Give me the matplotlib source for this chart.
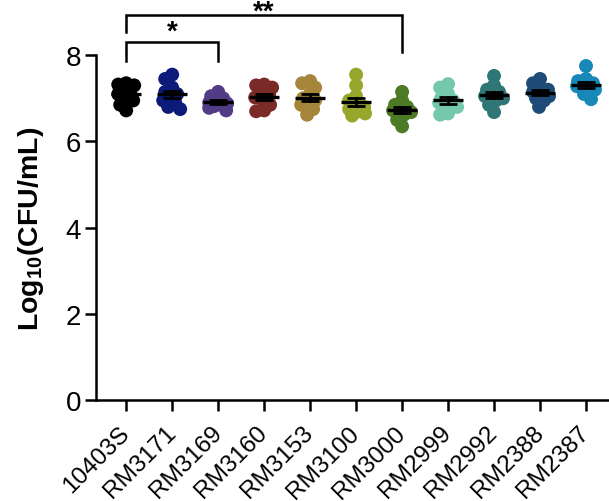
import numpy as np
import matplotlib
matplotlib.use("Agg")
import matplotlib.pyplot as plt

plt.rcParams['font.family'] = ['Liberation Sans', 'DejaVu Sans']

strains = ["10403S", "RM3171", "RM3169", "RM3160", "RM3153", "RM3100",
           "RM3000", "RM2999", "RM2992", "RM2388", "RM2387"]
colors = ["#000000", "#0c1a7a", "#523c86", "#7a2b27", "#a5853a", "#97a72c",
          "#4d7a24", "#74c8ad", "#2f7676", "#1e4b78", "#1888b9"]

v_10403S = [7.35, 7.32, 7.30, 7.25, 7.15, 7.10, 7.00, 6.95, 6.85, 6.72]
v_RM3171 = [7.55, 7.45, 7.25, 7.15, 7.10, 7.05, 6.95, 6.90, 6.80, 6.75]
v_RM3169 = [7.15, 7.05, 7.00, 6.95, 6.90, 6.88, 6.85, 6.82, 6.78, 6.72]
v_RM3160 = [7.32, 7.30, 7.25, 7.15, 7.08, 7.02, 6.95, 6.85, 6.72, 6.70]
v_RM3153 = [7.40, 7.35, 7.25, 7.10, 7.00, 6.95, 6.90, 6.85, 6.75, 6.62]
v_RM3100 = [7.55, 7.30, 7.05, 6.95, 6.85, 6.80, 6.75, 6.70, 6.65, 6.60]
v_RM3000 = [7.15, 6.95, 6.85, 6.80, 6.75, 6.72, 6.68, 6.62, 6.50, 6.35]
v_RM2999 = [7.33, 7.25, 7.10, 7.00, 6.95, 6.90, 6.90, 6.80, 6.65, 6.62]
v_RM2992 = [7.52, 7.30, 7.20, 7.15, 7.10, 7.05, 7.00, 6.95, 6.85, 6.68]
v_RM2388 = [7.45, 7.35, 7.25, 7.20, 7.15, 7.10, 7.05, 7.00, 6.95, 6.80]
v_RM2387 = [7.75, 7.45, 7.40, 7.35, 7.30, 7.28, 7.25, 7.20, 7.10, 6.98]
values = [v_10403S, v_RM3171, v_RM3169, v_RM3160, v_RM3153, v_RM3100,
          v_RM3000, v_RM2999, v_RM2992, v_RM2388, v_RM2387]

yticks = [0, 2, 4, 6, 8]
brackets = [(0, 2, "*"), (0, 6, "**")]

fig = plt.figure(figsize=(6.09, 5.02), dpi=100)
ax = fig.add_axes([0.158, 0.201, 0.842, 0.687])
ax.set_xlim(-0.652, 10.5)
ax.set_ylim(0, 8)

px_per_x = 46.0   # pixels per category
px_per_y = 43.1   # pixels per y unit
dmin = 8.0        # allowed centre spacing (markers overlap)
maxoff = 9.0

def swarm(vals):
    order = np.argsort(vals)[::-1]
    placed = []
    offs = np.zeros(len(vals))
    cands = np.arange(-maxoff, maxoff + 0.5, 1.0)
    cands = cands[np.argsort(np.abs(cands), kind='stable')]
    for i in order:
        y = vals[i] * px_per_y
        best, bestd = 0.0, -1
        chosen = None
        for c in cands:
            d = min([np.hypot(c - px, y - py) for px, py in placed], default=1e9)
            if d >= dmin:
                chosen = c
                break
            if d > bestd:
                best, bestd = c, d
        if chosen is None:
            chosen = best
        offs[i] = chosen
        placed.append((chosen, y))
    return offs / px_per_x

for i, (vals, col) in enumerate(zip(values, colors)):
    vals = np.array(vals)
    offs = swarm(vals)
    ax.scatter(i + offs, vals, s=100, color=col, edgecolors='none', zorder=2,
               clip_on=False)
    m = vals.mean()
    sem = vals.std(ddof=1) / np.sqrt(len(vals))
    ax.plot([i - 0.33, i + 0.33], [m, m], color='black', lw=2.4, zorder=3,
            solid_capstyle='butt')
    ax.plot([i, i], [m - sem, m + sem], color='black', lw=2.0, zorder=3)
    for e in (m - sem, m + sem):
        ax.plot([i - 0.2, i + 0.2], [e, e], color='black', lw=2.0, zorder=3,
                solid_capstyle='butt')

# significance brackets
levels = {"*": (8.31, 7.87, 7.87, 8.24), "**": (8.93, 8.54, 8.07, 8.72)}
for a, b, lab in brackets:
    top, la, lb, ty = levels[lab]
    ax.plot([a, a, b, b], [la, top, top, lb], color='black', lw=1.8,
            clip_on=False, solid_joinstyle='miter')
    ax.text((a + b) / 2, ty, lab, ha='center', va='bottom', fontsize=20,
            fontweight='bold', clip_on=False)

ax.set_yticks(yticks)
ax.set_yticklabels([str(t) for t in yticks], fontsize=20)
ax.set_xticks(range(len(strains)))
ax.set_xticklabels(strains, rotation=45, ha='right', va='center',
                   rotation_mode='anchor', fontsize=17.5)
ax.set_ylabel(r"Log$_{\mathregular{10}}$(CFU/mL)", fontsize=20.5,
              fontweight='bold', labelpad=14)
for s in ['top', 'right']:
    ax.spines[s].set_visible(False)
for s in ['left', 'bottom']:
    ax.spines[s].set_linewidth(1.8)
ax.tick_params(axis='both', width=1.8, length=8, color='black')
ax.tick_params(axis='x', pad=13)
ax.tick_params(axis='y', pad=3)

fig.savefig("out.png", dpi=100)
